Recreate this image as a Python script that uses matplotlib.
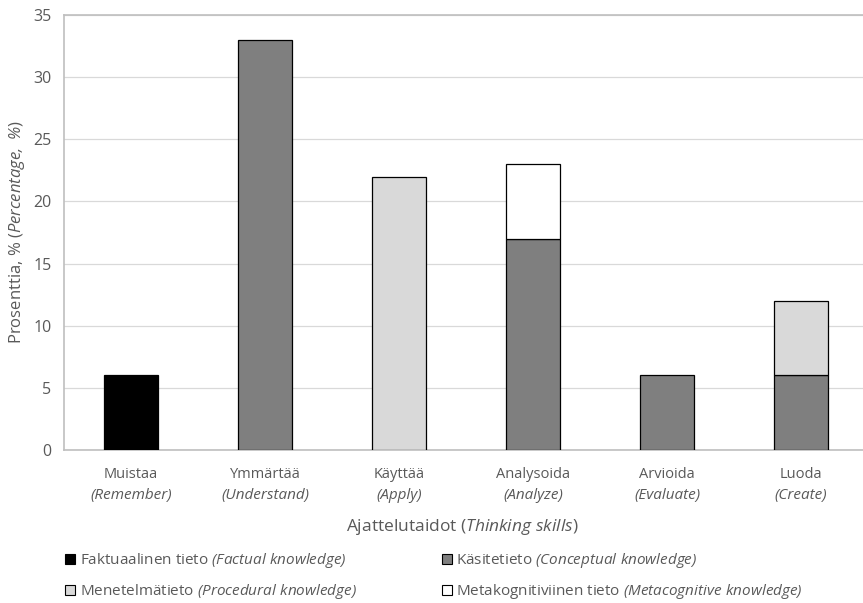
import matplotlib.pyplot as plt
import numpy as np
from matplotlib.patches import Patch

plt.rcParams['font.family'] = ['Open Sans', 'DejaVu Sans']
plt.rcParams['mathtext.fontset'] = 'custom'
plt.rcParams['mathtext.rm'] = 'Open Sans:italic'
plt.rcParams['mathtext.it'] = 'Open Sans:italic'

# data
skills_fi = ['Muistaa', 'Ymmärtää', 'Käyttää', 'Analysoida', 'Arvioida', 'Luoda']
skills_en = ['Remember', 'Understand', 'Apply', 'Analyze', 'Evaluate', 'Create']
factual = [6, 0, 0, 0, 0, 0]
conceptual = [0, 33, 0, 17, 6, 6]
procedural = [0, 0, 22, 0, 0, 6]
metacognitive = [0, 0, 0, 6, 0, 0]

series = [
    (factual, '#000000', r'Faktuaalinen tieto $(Factual\ knowledge)$'),
    (conceptual, '#7f7f7f', r'Käsitetieto $(Conceptual\ knowledge)$'),
    (procedural, '#d9d9d9', r'Menetelmätieto $(Procedural\ knowledge)$'),
    (metacognitive, '#ffffff', r'Metakognitiviinen tieto $(Metacognitive\ knowledge)$'),
]

txt = '#595959'
grey = '#bfbfbf'

fig = plt.figure(figsize=(8.63, 6.03), dpi=100)
ax = fig.add_axes([64 / 863, 1 - 450 / 603, 804 / 863, 435 / 603])

x = np.arange(len(skills_fi))
bottom = np.zeros(len(x))
for vals, col, lab in series:
    vals = np.array(vals, dtype=float)
    mask = vals > 0
    ax.bar(x[mask], vals[mask], 0.4, bottom=bottom[mask], color=col,
           edgecolor='#000000', linewidth=0.9, zorder=3)
    bottom += vals

ax.set_xlim(-0.5, len(x) - 0.5)
ax.set_ylim(0, 35)
ax.set_yticks(range(0, 36, 5))
ax.tick_params(axis='y', length=0, labelsize=11.5, colors=txt, pad=9)
ax.tick_params(axis='x', length=0)
ax.set_xticks([])
ax.grid(axis='y', color='#d9d9d9', linewidth=0.9, zorder=0)
for s in ax.spines.values():
    s.set_color(grey)
    s.set_linewidth(1.2)

# two-line category labels
for i in x:
    ax.text(i, -1.95, skills_fi[i], ha='center', va='center', fontsize=10.5, color=txt)
    ax.text(i, -3.7, '(' + skills_en[i] + ')', ha='center', va='center', fontsize=11,
            color=txt, style='italic')

ax.text(0.495, -0.177, r'Ajattelutaidot ($Thinking\ skills$)', transform=ax.transAxes,
        ha='center', va='center', fontsize=12.5, color=txt)
fig.text(17 / 863, 1 - 232 / 603, r'Prosenttia, % ($Percentage,\ \%$)', rotation=90,
         ha='center', va='center', fontsize=12, color=txt)

# row-wise order for two columns
order = [0, 2, 1, 3]
handles = [Patch(facecolor=series[k][1], edgecolor='#000000', linewidth=0.8) for k in order]
labels = [series[k][2] for k in order]
fig.legend(handles, labels, ncol=2, loc='upper left', bbox_to_anchor=(65 / 863, 1 - 551 / 603),
           frameon=False, fontsize=11, labelcolor=txt, handlelength=0.65, handleheight=0.65,
           handletextpad=0.3, columnspacing=5.6, labelspacing=0.8, borderpad=0,
           borderaxespad=0)

fig.savefig('out.png', dpi=100)
